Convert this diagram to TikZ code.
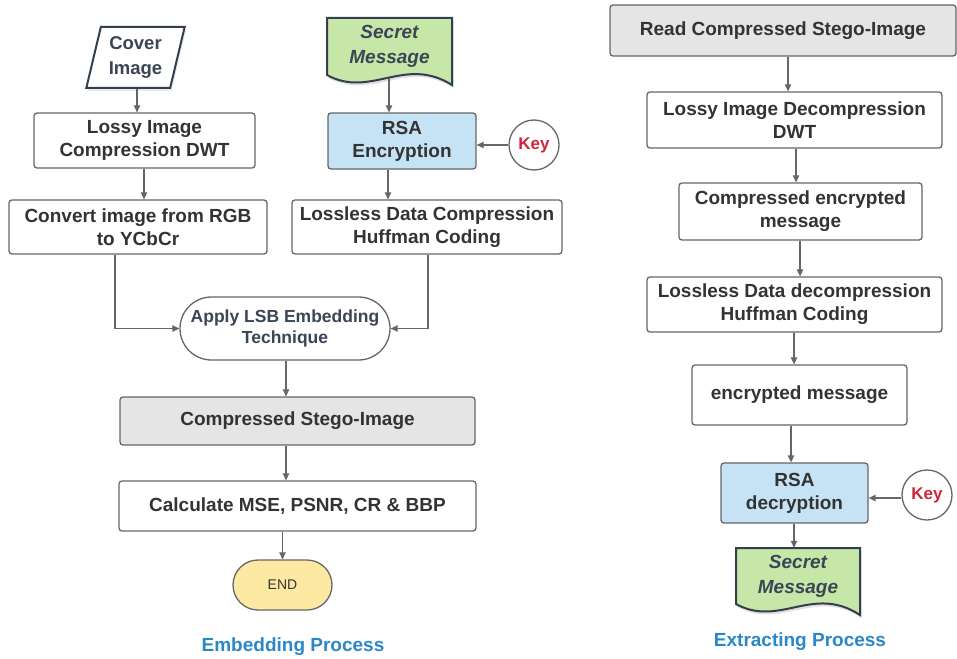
\documentclass[tikz,border=0pt]{standalone}
\usepackage{fontspec}
\setmainfont{Liberation Sans}
\usetikzlibrary{arrows.meta,shapes.geometric,shapes.misc,shadows}
\definecolor{bordc}{HTML}{666666}
\definecolor{arrc}{HTML}{666666}
\definecolor{txt}{HTML}{333333}
\definecolor{slate}{HTML}{3A4556}
\definecolor{slatedark}{HTML}{333F50}
\definecolor{docgreen}{HTML}{C7E7A9}
\definecolor{boxblue}{HTML}{C6E3F6}
\definecolor{boxgray}{HTML}{E5E5E5}
\definecolor{endyellow}{HTML}{FEE9A3}
\definecolor{keyred}{HTML}{D1263A}
\definecolor{capblue}{HTML}{2A87C8}
\begin{document}
\begin{tikzpicture}[x=1pt,y=-1pt,
  font=\fontsize{19}{23}\selectfont\bfseries,
  box/.style={draw=bordc, line width=1.3pt, rounded corners=3pt, align=center, text=txt, inner sep=0pt},
  keynode/.style={circle, draw=bordc, line width=1.3pt, fill=white, minimum size=50pt, inner sep=0pt, text=keyred, font=\fontsize{17}{20}\selectfont\bfseries},
  doctext/.style={align=center, text=slate, inner sep=0pt, font=\fontsize{19}{25}\selectfont\bfseries\itshape},
  docshape/.style={fill=docgreen, draw=slatedark, line width=2pt, line join=miter},
  docshadow/.style={fill=black, opacity=0.12, xshift=1.5pt, yshift=-3pt},
  arr/.style={draw=arrc, line width=1.1pt, -{Triangle[length=7pt,width=6.5pt]}},
  caption/.style={text=capblue, font=\fontsize{19}{23}\selectfont\bfseries}
]
\useasboundingbox (0,0) rectangle (957,658);

% ---------- Embedding process ----------
\node[trapezium, trapezium left angle=75, trapezium right angle=105, trapezium stretches=true,
      draw=slatedark, line width=2pt, fill=white, text=slate, align=center, inner sep=0pt,
      minimum width=99pt, minimum height=61pt, font=\fontsize{18.5}{25}\selectfont\bfseries,
      drop shadow={shadow xshift=1.5pt, shadow yshift=-3pt, opacity=0.15}]
      (cover) at (135.5,57.5) {Cover\\Image};

\node[box, minimum width=221pt, minimum height=55pt] (lic) at (144.5,140.5) {Lossy Image\\Compression DWT};
\node[box, minimum width=258pt, minimum height=54pt] (conv) at (138,227) {Convert image from RGB\\to YCbCr};

\path[docshadow] (327,18) -- (452,18) -- (452,85) .. controls (404.5,55) and (370.75,99) .. (327,75) -- cycle;
\path[docshape] (327,18) -- (452,18) -- (452,85) .. controls (404.5,55) and (370.75,99) .. (327,75) -- cycle;
\node[doctext, minimum width=125pt, minimum height=57pt] (sm1) at (389.5,46.5) {Secret\\Message};

\node[box, fill=boxblue, minimum width=148pt, minimum height=56pt] (rsa1) at (402,141) {RSA\\Encryption};
\node[keynode] (key1) at (534,145) {Key};
\node[box, minimum width=270pt, minimum height=54pt] (ll) at (427,227) {Lossless Data Compression\\Huffman Coding};

\node[rounded rectangle, draw=bordc, line width=1.3pt, fill=white, text=slate, align=center, inner sep=0pt,
      minimum width=210pt, minimum height=63pt, font=\fontsize{17.5}{21.5}\selectfont\bfseries]
      (lsb) at (285,328.5) {Apply LSB Embedding\\Technique};

\node[box, fill=boxgray, minimum width=355pt, minimum height=48pt] (stego) at (297.5,421) {Compressed Stego-Image};
\node[box, minimum width=357pt, minimum height=50pt] (calc) at (297.5,506) {Calculate MSE, PSNR, CR \& BBP};
\node[rounded rectangle, draw=bordc, line width=1.3pt, fill=endyellow, text=txt, inner sep=0pt,
      minimum width=99pt, minimum height=50pt, font=\fontsize{14}{16}\selectfont]
      (fin) at (282.5,585) {END};

\node[caption] (cap1) at (293,647) {Embedding Process};

\coordinate (xa) at (137,0);
\coordinate (xb) at (144,0);
\coordinate (xc) at (115,0);
\coordinate (xd) at (389,0);
\coordinate (xe) at (388,0);
\coordinate (xf) at (428,0);
\coordinate (xg) at (286,0);

\draw[arr] (cover.south -| xa) -- (lic.north -| xa);
\draw[arr] (lic.south -| xb) -- (conv.north -| xb);
\draw[arr] (conv.south -| xc) |- (lsb.west);
\draw[arr] ([yshift=-3pt]sm1.south -| xd) -- (rsa1.north -| xd);
\draw[arr] (key1.west) -- (key1.west -| rsa1.east);
\draw[arr] (rsa1.south -| xe) -- (ll.north -| xe);
\draw[arr] (ll.south -| xf) |- (lsb.east);
\draw[arr] (lsb.south -| xg) -- (stego.north -| xg);
\draw[arr] (stego.south -| xg) -- (calc.north -| xg);
\draw[arr] (calc.south -| fin.north) -- (fin.north);

% ---------- Extracting process ----------
\node[box, fill=boxgray, minimum width=346pt, minimum height=51pt] (read) at (783,30.5) {Read Compressed Stego-Image};
\node[box, minimum width=295pt, minimum height=56pt] (lid) at (794.5,120) {Lossy Image Decompression\\DWT};
\node[box, minimum width=243pt, minimum height=57pt] (cem) at (800.5,211.5) {Compressed encrypted\\message};
\node[box, minimum width=295pt, minimum height=55pt] (ldd) at (794.5,304.5) {Lossless Data decompression\\Huffman Coding};
\node[box, minimum width=215pt, minimum height=60pt] (em) at (799.5,395) {encrypted message};
\node[box, fill=boxblue, minimum width=147pt, minimum height=60pt] (rsa2) at (794.5,493) {RSA\\decryption};
\node[keynode] (key2) at (927,495) {Key};

\path[docshadow] (736,548) -- (860,548) -- (860,615) .. controls (812.9,584) and (779.4,628) .. (736,604) -- cycle;
\path[docshape] (736,548) -- (860,548) -- (860,615) .. controls (812.9,584) and (779.4,628) .. (736,604) -- cycle;
\node[doctext, minimum width=124pt, minimum height=56pt] (sm2) at (798,576) {Secret\\Message};

\node[caption] (cap2) at (800,642) {Extracting Process};

\coordinate (xr1) at (788,0);
\coordinate (xr2) at (796,0);
\coordinate (xr3) at (800,0);
\coordinate (xr4) at (794,0);
\coordinate (xr5) at (791,0);

\draw[arr] (read.south -| xr1) -- (lid.north -| xr1);
\draw[arr] (lid.south -| xr2) -- (cem.north -| xr2);
\draw[arr] (cem.south -| xr3) -- (ldd.north -| xr3);
\draw[arr] (ldd.south -| xr4) -- (em.north -| xr4);
\draw[arr] (em.south -| xr5) -- (rsa2.north -| xr5);
\draw[arr] ([yshift=-3pt]key2.west) -- ([yshift=-3pt]key2.west -| rsa2.east);
\draw[arr] (rsa2.south -| xr4) -- (sm2.north -| xr4);
\end{tikzpicture}
\end{document}
